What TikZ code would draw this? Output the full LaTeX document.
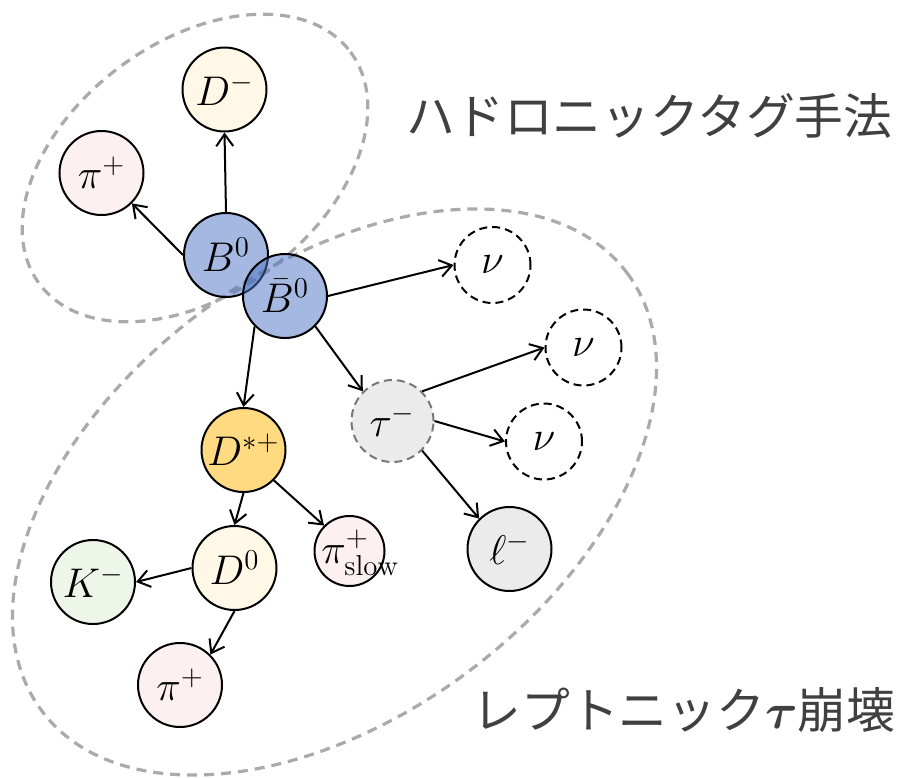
\documentclass[tikz,border=0pt]{standalone}
\usepackage{amsmath}
\usepackage{fontspec}
\newfontfamily\jp{Noto Sans CJK JP}
\usetikzlibrary{arrows.meta}
\definecolor{txtgray}{HTML}{404040}
\definecolor{bblue}{HTML}{4A72C4}
\definecolor{cream}{HTML}{FFF8E7}
\definecolor{pinkf}{HTML}{FDF0F0}
\definecolor{gold}{HTML}{FFDA80}
\definecolor{greenf}{HTML}{EEF6E9}
\definecolor{grayf}{HTML}{EBEBEB}
\definecolor{ellgray}{HTML}{AAAAAA}
\definecolor{taugray}{HTML}{777777}
\begin{document}
\begin{tikzpicture}[x=0.5pt,y=-0.5pt,
  part/.style={circle, draw=black, line width=1pt, minimum size=42pt, inner sep=0pt,
    font=\fontsize{20.74}{24}\selectfont},
  bnode/.style={part, fill=bblue, fill opacity=0.5, text opacity=1},
  nunode/.style={part, fill=white, dash pattern=on 4pt off 2.5pt, minimum size=38pt},
  taunode/.style={part, fill=grayf, draw=taugray, dash pattern=on 4pt off 2.5pt, minimum size=41pt},
  arr/.style={line width=1pt, -{Straight Barb[length=6pt,width=8.5pt]}},
  region/.style={draw=ellgray, line width=1.6pt, dash pattern=on 5pt off 3.5pt},
  jptext/.style={font=\jp\fontsize{24.4}{28}\selectfont, text=txtgray, inner sep=0pt, anchor=base west}
]
\useasboundingbox (0,0) rectangle (900,777);

% regions
\draw[region, rotate around={36.7:(195,168)}] (195,168) ellipse [x radius=194, y radius=126];
\draw[region, rotate around={36.8:(334.5,492)}] (334.5,492) ellipse [x radius=365.5, y radius=224];

% nodes
\node[part, fill=cream] (Dm) at (224.5,89.5) {$D^-$};
\node[part, fill=pinkf] (pit) at (101.5,173) {$\pi^+$};
\node[bnode] (B) at (226,255) {$B^0$};
\node[bnode] (Bb) at (285,296) {$\bar{B}^0$};
\node[nunode] (nu1) at (492.5,265) {$\nu$};
\node[nunode] (nu2) at (583.5,347.5) {$\nu$};
\node[taunode] (tau) at (392.5,421) {$\tau^-$};
\node[nunode] (nu3) at (544,441.5) {$\nu$};
\node[part, fill=gold] (Ds) at (243.5,450) {$D^{*+}$};
\node[part, fill=grayf] (ell) at (509.5,549) {$\ell^-$};
\node[part, fill=cream] (D0) at (234.5,568) {$D^0$};
\node[part, fill=pinkf, minimum size=35pt] (pis) at (349.5,551) {};
\node[anchor=base west, inner sep=0pt, font=\fontsize{20.74}{24}\selectfont] (pistext) at (321,563) {$\pi^+_{\mathrm{slow}}$};
\node[part, fill=greenf] (K) at (93,582) {$K^-$};
\node[part, fill=pinkf] (pib) at (180,685) {$\pi^+$};

% arrows
\draw[arr] (B.north) -- (Dm.south);
\draw[arr] (B.west) -- (pit.south east);
\draw[arr] (Bb.east) -- (nu1.west);
\draw[arr] (Bb.south east) -- (tau.north west);
\draw[arr] (Bb.south west) -- (Ds.north);
\draw[arr] (tau.north east) -- (nu2.west);
\draw[arr] (tau.east) -- (nu3.west);
\draw[arr] (tau.south east) -- (ell.north west);
\draw[arr] (Ds.south) -- (D0.north);
\draw[arr] (Ds.south east) -- (pis.north west);
\draw[arr] (D0.west) -- (K.east);
\draw[arr] (D0.south) -- (pib.north east);

% labels
\node[jptext] (hadlabel) at (406,134) {ハドロニックタグ手法};
\node[jptext] (leplabel) at (472,728) {レプトニック$\boldsymbol{\tau}$崩壊};
\end{tikzpicture}
\end{document}
